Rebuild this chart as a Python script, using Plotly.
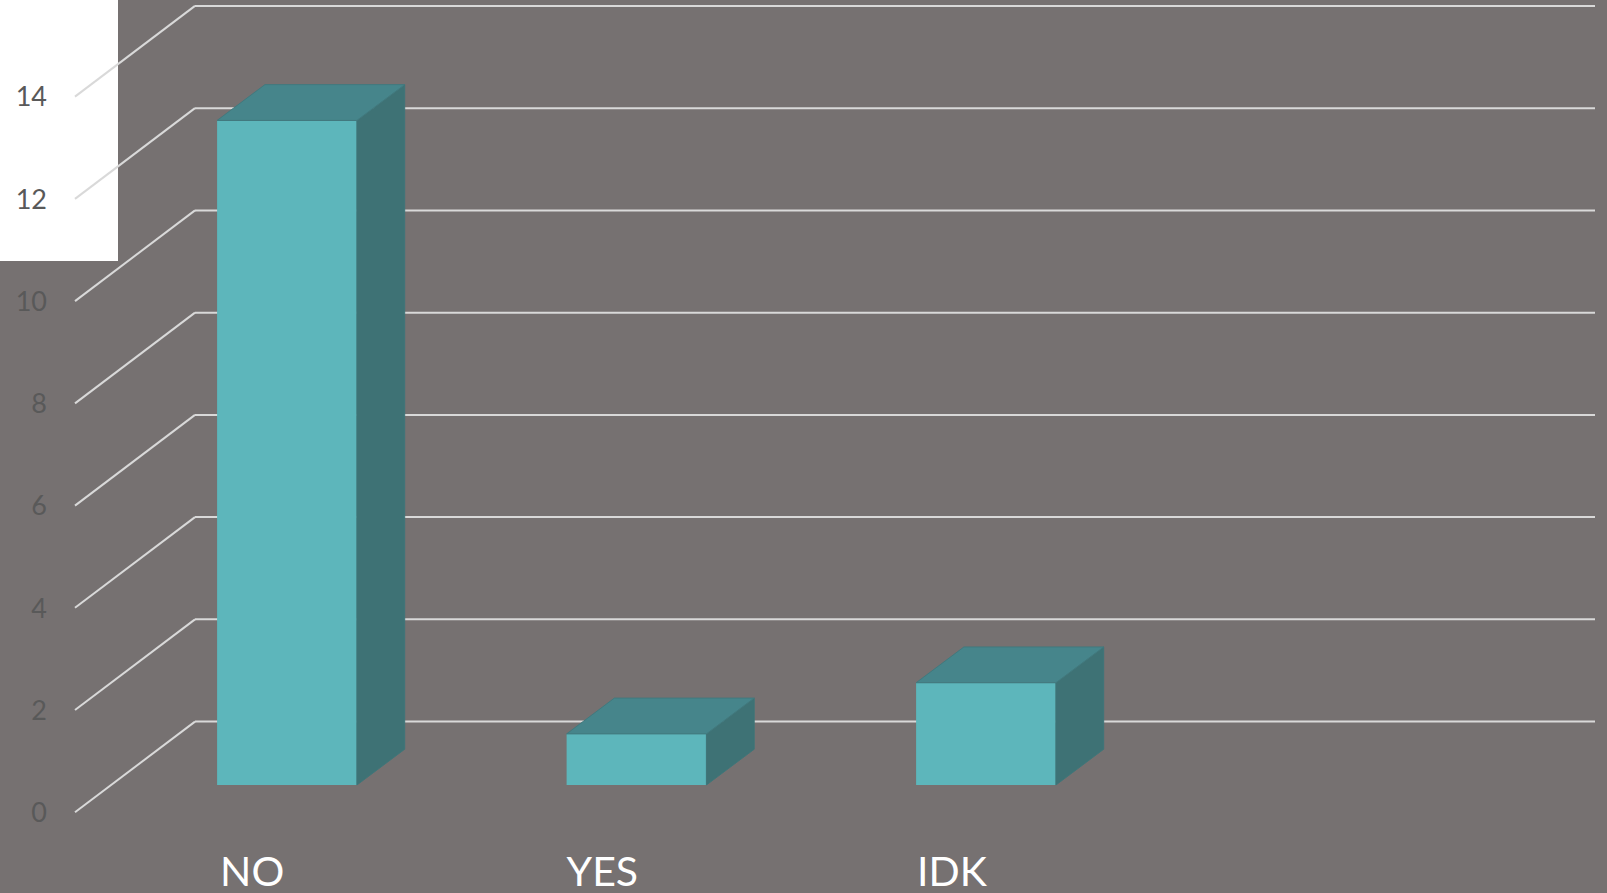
import plotly.graph_objects as go

# Survey answers
categories = ["NO", "YES", "IDK"]
answers = [13, 1, 2]
value_ticks = [0, 2, 4, 6, 8, 10, 12, 14]
tick_color = "#595959"

WIDTH, HEIGHT = 1607, 893
BG = "#767171"
FRONT, SIDE, TOP = "#5db6bb", "#3e7275", "#46858b"
GRID = "#d9d9d9"

# Axis scales: one category slot and one value unit, in screen pixels
SLOT = 349.5
UNIT = 51.12
BAR_WIDTH = 0.4
positions = list(range(len(categories)))
x_range = [-287 / SLOT, (WIDTH - 287) / SLOT]
y_range = [(785 - HEIGHT) / UNIT, 785 / UNIT]

# Oblique projection offsets, expressed in axis units
BAR_DX, BAR_DY = 47.8 / SLOT, 35.8 / UNIT
FLOOR_FRONT_DY = -27.3 / UNIT
WALL_DY = 63.4 / UNIT
AXIS_LEFT = (75 - 287) / SLOT
WALL_LEFT = (195 - 287) / SLOT
WALL_RIGHT = (1595 - 287) / SLOT
LABEL_X = (47 - 287) / SLOT

# Optical nudges for the text baselines and side bearings
VALUE_LABEL_DROP = 3 / UNIT
CATEGORY_Y = (785 - 876) / UNIT
CATEGORY_NUDGE = [3 / SLOT, 0, 1 / SLOT]

fig = go.Figure()

# White panel behind the two top value labels
shapes = [dict(type="rect", xref="x", yref="paper", layer="below",
               x0=x_range[0], x1=(118 - 287) / SLOT,
               y0=1 - 261 / HEIGHT, y1=1,
               fillcolor="white", line_width=0)]

# Back wall gridlines and the floor-to-wall diagonals
for v in value_ticks:
    shapes.append(dict(type="line", layer="below", xref="x", yref="y",
                       x0=WALL_LEFT, x1=WALL_RIGHT,
                       y0=v + WALL_DY, y1=v + WALL_DY,
                       line=dict(color=GRID, width=2)))
    shapes.append(dict(type="line", layer="below", xref="x", yref="y",
                       x0=AXIS_LEFT, x1=WALL_LEFT,
                       y0=v + FLOOR_FRONT_DY, y1=v + WALL_DY,
                       line=dict(color=GRID, width=2)))

# Front faces
fig.add_trace(go.Bar(x=positions, y=answers, base=0, width=BAR_WIDTH,
                     marker=dict(color=FRONT, line=dict(color=FRONT, width=0)),
                     hoverinfo="skip", showlegend=False))

# Side and top faces of each bar
for pos, val in zip(positions, answers):
    left, right = pos - BAR_WIDTH / 2, pos + BAR_WIDTH / 2
    fig.add_trace(go.Scatter(
        x=[right, right + BAR_DX, right + BAR_DX, right, right],
        y=[0, BAR_DY, val + BAR_DY, val, 0],
        mode="lines", fill="toself", fillcolor=SIDE,
        line=dict(color="#3f7679", width=1),
        hoverinfo="skip", showlegend=False))
    fig.add_trace(go.Scatter(
        x=[left, left + BAR_DX, right + BAR_DX, right, left],
        y=[val, val + BAR_DY, val + BAR_DY, val, val],
        mode="lines", fill="toself", fillcolor=TOP,
        line=dict(color="#41797e", width=1),
        hoverinfo="skip", showlegend=False))

# Value labels along the front edge of the floor
fig.add_trace(go.Scatter(
    x=[LABEL_X] * len(value_ticks),
    y=[v + FLOOR_FRONT_DY - VALUE_LABEL_DROP for v in value_ticks],
    mode="text", text=[str(v) for v in value_ticks],
    textposition="middle left",
    textfont=dict(family="Lato", size=27, color=tick_color),
    hoverinfo="skip", showlegend=False))

# Category labels, set flush with the left edge of each bar
fig.add_trace(go.Scatter(
    x=[p - BAR_WIDTH / 2 + n for p, n in zip(positions, CATEGORY_NUDGE)],
    y=[CATEGORY_Y] * len(categories),
    mode="text", text=categories,
    textposition="middle right",
    textfont=dict(family="Lato", size=41, color="white"),
    hoverinfo="skip", showlegend=False))

fig.update_layout(
    width=WIDTH, height=HEIGHT,
    margin=dict(l=0, r=0, t=0, b=0),
    paper_bgcolor=BG, plot_bgcolor=BG,
    shapes=shapes,
    xaxis=dict(range=x_range, visible=False, fixedrange=True),
    yaxis=dict(range=y_range, visible=False, fixedrange=True),
    showlegend=False,
)

fig.write_html("out.html", config={"displayModeBar": False})
